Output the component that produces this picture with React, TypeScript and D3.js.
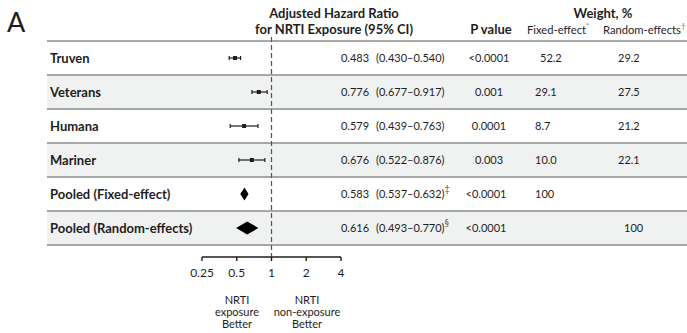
import React from "react";
import * as d3 from "d3";

const rowLabels = ["Truven", "Veterans", "Humana", "Mariner", "Pooled (Fixed-effect)", "Pooled (Random-effects)"];
const rowKind = ["study", "study", "study", "study", "diamond", "diamond"];
const hrValues = [0.483, 0.776, 0.579, 0.676, 0.583, 0.616];
const ciLow = [0.43, 0.677, 0.439, 0.522, 0.537, 0.493];
const ciHigh = [0.54, 0.917, 0.763, 0.876, 0.632, 0.77];
const hrText = ["0.483", "0.776", "0.579", "0.676", "0.583", "0.616"];
const ciText = ["(0.430–0.540)", "(0.677–0.917)", "(0.439–0.763)", "(0.522–0.876)", "(0.537–0.632)", "(0.493–0.770)"];
const ciMark = ["", "", "", "", "‡", "§"];
const pValues = ["<0.0001", "0.001", "0.0001", "0.003", "<0.0001", "<0.0001"];
const weightFixed = ["52.2", "29.1", "8.7", "10.0", "100", ""];
const weightRandom = ["29.2", "27.5", "21.2", "22.1", "", "100"];
const axisTicks = [0.25, 0.5, 1, 2, 4];
const axisTickLabels = ["0.25", "0.5", "1", "2", "4"];

const FONT = "Lato, 'Open Sans', sans-serif";
const INK = "#1e1e1e";

export default function App() {
  const W = 687, H = 333;
  const x = d3.scaleLog().base(2).domain([0.25, 4]).range([202, 341]);
  const y = d3.scaleBand<string>().domain(rowLabels).range([41, 245]);
  const bw = y.bandwidth();
  const axisY = 257;

  return (
    <svg width={W} height={H} style={{ position: "absolute", left: 0, top: 0, background: "#fff" }} fontFamily={FONT}>
      <text x={7} y={32} fontSize={27} fill={INK}>A</text>

      {/* header */}
      <g fontWeight="bold" fontSize={13} fill={INK} textAnchor="middle">
        <text x={334} y={18}>Adjusted Hazard Ratio</text>
        <text x={334} y={34}>for NRTI Exposure (95% CI)</text>
        <text x={491} y={34}>P value</text>
        <text x={603} y={18}>Weight, %</text>
      </g>
      <g fontSize={11.2} fill={INK}>
        <text x={527} y={34}>Fixed-effect<tspan fontSize={8} dy={-5} fill="#888">*</tspan></text>
        <text x={603} y={34}>Random-effects<tspan fontSize={8} dy={-5} fill="#777">†</tspan></text>
      </g>

      {/* row backgrounds */}
      {rowLabels.map((r, i) => (
        <rect key={"bg" + r} x={47} y={y(r)!} width={W - 47} height={bw} fill={i % 2 === 1 ? "#f0f1f1" : "#ffffff"} />
      ))}
      {/* row lines */}
      {[...rowLabels.map((r) => y(r)!), 245].map((yy, i) => (
        <line key={"hl" + i} x1={47} x2={W} y1={yy} y2={yy} stroke="#8c8c8c" strokeWidth={1.6} />
      ))}

      {/* reference dashed line */}
      <line x1={x(1)} x2={x(1)} y1={37} y2={axisY} stroke="#555" strokeWidth={1.2} strokeDasharray="5,3" />

      {rowLabels.map((r, i) => {
        const cy = y(r)! + bw / 2;
        return (
          <g key={r}>
            <text x={50} y={cy + 4.5} fontSize={13} fontWeight="bold" fill={INK}>{r}</text>
            {rowKind[i] === "study" ? (
              <g stroke={INK} strokeWidth={1.2}>
                <line x1={x(ciLow[i])} x2={x(ciHigh[i])} y1={cy} y2={cy} />
                <line x1={x(ciLow[i])} x2={x(ciLow[i])} y1={cy - 2} y2={cy + 2} />
                <line x1={x(ciHigh[i])} x2={x(ciHigh[i])} y1={cy - 2} y2={cy + 2} />
                <rect x={x(hrValues[i]) - 2} y={cy - 2} width={4} height={4} fill={INK} stroke="none" />
              </g>
            ) : (
              <path
                d={`M${x(ciLow[i])},${cy} L${x(hrValues[i])},${cy - 6.5} L${x(ciHigh[i])},${cy} L${x(hrValues[i])},${cy + 6.5} Z`}
                fill="#000"
              />
            )}
            <g fontSize={11} fill={INK}>
              <text x={355} y={cy + 4} textAnchor="middle">{hrText[i]}</text>
              <text x={376} y={cy + 4}>
                {ciText[i]}
                {ciMark[i] && <tspan fontSize={9} dy={-6} fill="#555">{ciMark[i]}</tspan>}
              </text>
              <text x={i < 4 ? 489 : 486} y={cy + 4} textAnchor="middle">{pValues[i]}</text>
              <text x={i === 0 ? 540 : 535} y={cy + 4}>{weightFixed[i]}</text>
              <text x={i === 5 ? 624 : 618} y={cy + 4}>{weightRandom[i]}</text>
            </g>
          </g>
        );
      })}

      {/* axis */}
      <g stroke={INK} strokeWidth={1.4}>
        <line x1={x(0.25)} x2={x(4)} y1={axisY} y2={axisY} />
        {axisTicks.map((t) => (
          <line key={"t" + t} x1={x(t)} x2={x(t)} y1={axisY} y2={axisY + 4} />
        ))}
      </g>
      <g fontSize={12} fill={INK} textAnchor="middle">
        {axisTicks.map((t, i) => (
          <text key={"tl" + t} x={x(t)} y={277}>{axisTickLabels[i]}</text>
        ))}
      </g>
      <g fontSize={11} fill={INK} textAnchor="middle">
        <text x={237} y={304}>NRTI</text>
        <text x={237} y={316}>exposure</text>
        <text x={237} y={328}>Better</text>
        <text x={307} y={304}>NRTI</text>
        <text x={307} y={316}>non-exposure</text>
        <text x={307} y={328}>Better</text>
      </g>
    </svg>
  );
}
